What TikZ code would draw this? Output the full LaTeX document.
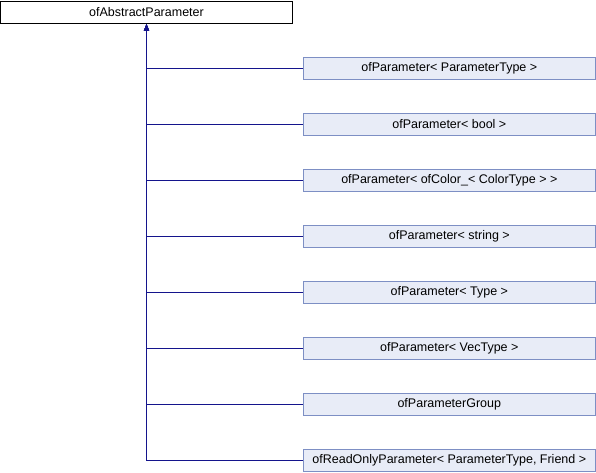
\documentclass[tikz,border=0pt]{standalone}
\usepackage{fontspec}
\setmainfont{Liberation Sans}
\usetikzlibrary{arrows.meta}
\definecolor{nodefill}{HTML}{E8ECF7}
\definecolor{nodeborder}{HTML}{7D8FC4}
\definecolor{edgecol}{HTML}{14148C}
\begin{document}
\begin{tikzpicture}[x=1pt,y=1pt,
  basebox/.style={draw=black,line width=1pt,minimum width=292pt,minimum height=22pt,inner sep=0pt,font=\fontsize{12.5}{14}\selectfont},
  childbox/.style={draw=nodeborder,fill=nodefill,line width=1pt,minimum width=292pt,minimum height=22pt,inner sep=0pt,font=\fontsize{12.5}{14}\selectfont},
  inhedge/.style={draw=edgecol,color=edgecol,line width=1pt,-{Triangle[length=7pt,width=5pt]}}]
\useasboundingbox (0,0) rectangle (596,472);
\node[basebox] (top) at (146.5,459.5) {ofAbstractParameter};
\node[childbox] (c1) at (449.3,403.5) {ofParameter< ParameterType >};
\node[childbox] (c2) at (449.3,347.5) {ofParameter< bool >};
\node[childbox] (c3) at (449.3,291.5) {ofParameter< ofColor\_< ColorType > >};
\node[childbox] (c4) at (449.3,235.5) {ofParameter< string >};
\node[childbox] (c5) at (449.3,179.5) {ofParameter< Type >};
\node[childbox] (c6) at (449.3,123.5) {ofParameter< VecType >};
\node[childbox] (c7) at (449.3,67.5) {ofParameterGroup};
\node[childbox] (c8) at (449.3,11.5) {ofReadOnlyParameter< ParameterType, Friend >};
\foreach \c in {c1,c2,c3,c4,c5,c6,c7,c8}{
  \draw[inhedge] (\c.west) -| (top.south);
}
\end{tikzpicture}
\end{document}
